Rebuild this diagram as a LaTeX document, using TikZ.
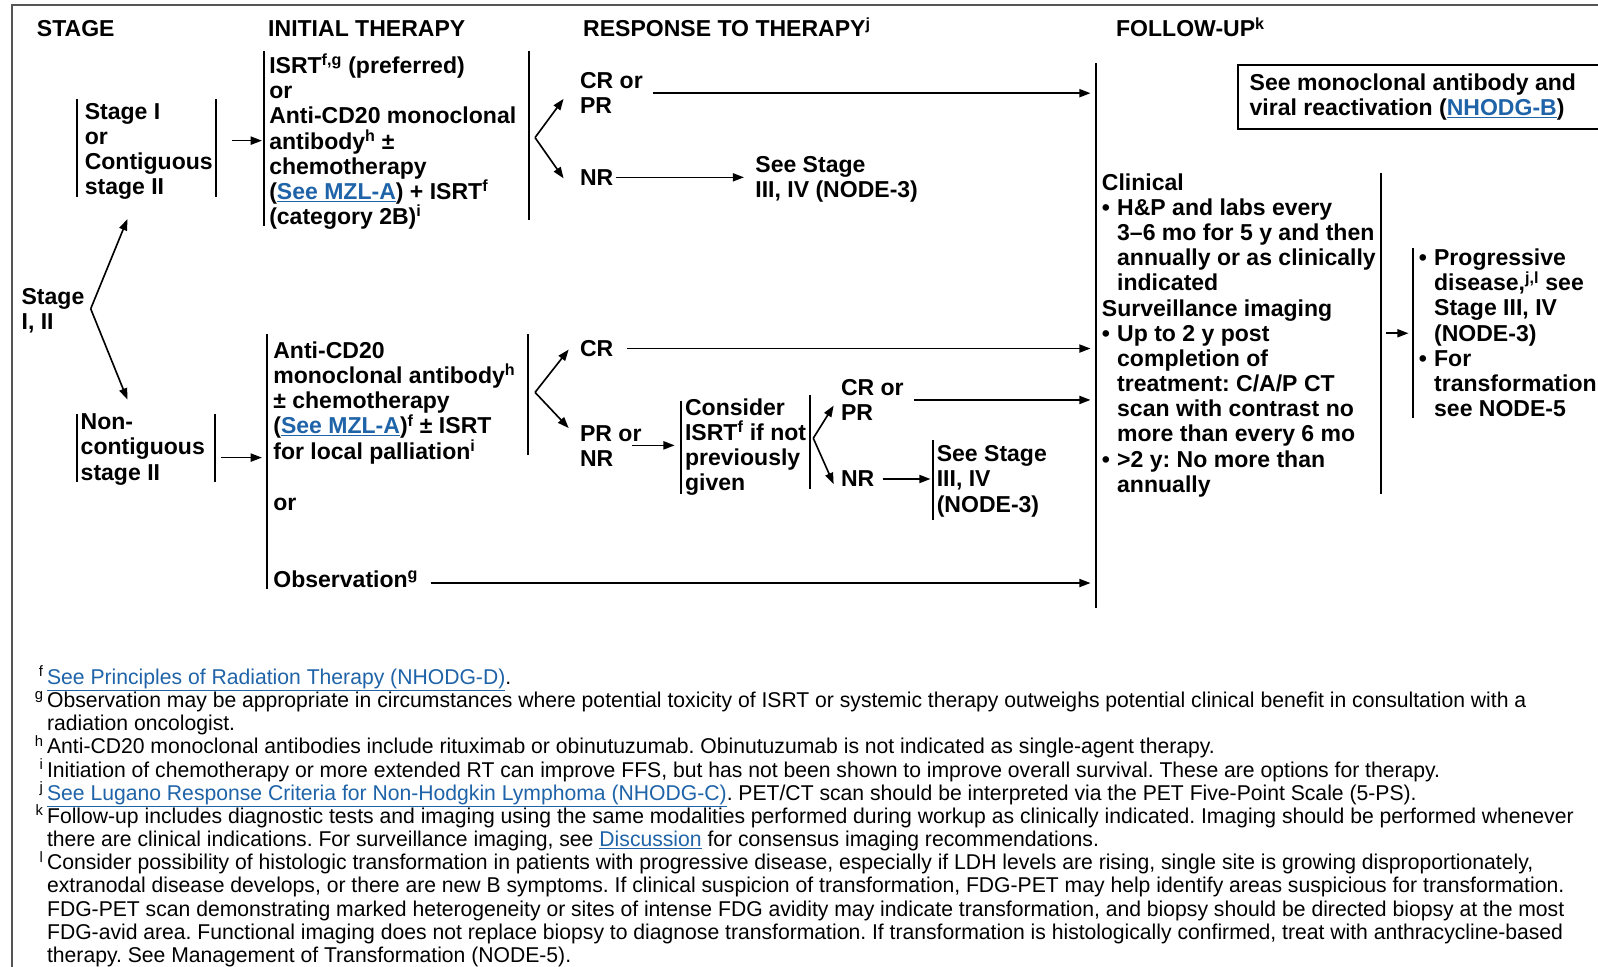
\documentclass[tikz,border=0pt]{standalone}
\usepackage{fontspec}
\setmainfont{Liberation Sans}
\newfontfamily\fnfont[FakeStretch=0.988]{Liberation Sans}
\usetikzlibrary{arrows.meta}
\definecolor{linkblue}{RGB}{31,99,168}
\definecolor{framegray}{RGB}{85,85,85}
\newcommand\lnk[1]{\textcolor{linkblue}{\underline{#1}}}
\newcommand\sps[1]{\textsuperscript{#1}}
\newcommand\fsp[1]{\llap{\smash{\textsuperscript{#1}}\,}}
\newcommand\bul{\makebox[15pt][l]{•}}
\newcommand\ind{\hspace*{15pt}}
\frenchspacing
\begin{document}
\begin{tikzpicture}[x=1pt,y=-1pt,
  txt/.style={inner sep=0pt, align=left, font=\fontsize{22.6}{24.7}\selectfont\bfseries},
  hd/.style={inner sep=0pt, anchor=base west, font=\fontsize{22.6}{24.7}\selectfont\bfseries},
  bar/.style={line width=2pt},
  arr/.style={line width=1.6pt, -{Triangle[length=11pt,width=8pt]}},
  fn/.style={inner sep=0pt, align=left, font=\fontsize{21}{22.75}\selectfont\fnfont},
]
\useasboundingbox (0,0) rectangle (1568,948);
\draw[framegray, line width=1.5pt] (12,960) -- (12,5) -- (1580,5);

% headings
\node[hd] (hStage) at (36,36) {STAGE};
\node[hd] (hInit) at (263,36) {INITIAL THERAPY};
\node[hd] (hResp) at (572,36) {RESPONSE TO THERAPY\sps{j}};
\node[hd] (hFol) at (1095,36) {FOLLOW-UP\sps{k}};

% follow-up target line
\coordinate (fu) at (1070,0);
\draw[bar] (1075,62) -- (1075,597);

% stage I, II
\node[txt, anchor=north west] (st) at (21,283) {Stage\\I, II};
\coordinate (vst) at (89,303);
\coordinate (tS1) at (125,215);
\coordinate (tNC) at (125,392);
\draw[arr] (vst) -- (tS1);
\draw[arr] (vst) -- (tNC);

% stage I box
\node[txt, anchor=north west] (s1) at (83,101) {Stage I\\or\\Contiguous\\stage II};
\draw[bar] (76,97) -- (76,193);
\draw[bar] (212,97) -- (212,193);
\coordinate (a1s) at (228,138);
\coordinate (a1e) at (257,138);
\draw[arr] (a1s) -- (a1e);

% initial therapy 1
\node[txt, anchor=north west] (b1) at (264,53) {ISRT\sps{f,g} (preferred)\\or\\Anti-CD20 monoclonal\\antibody\sps{h} ±\\chemotherapy\\(\lnk{See MZL-A}) + ISRT\sps{f}\\(category 2B)\sps{i}};
\draw[bar] (259,50) -- (259,222);
\draw[bar] (519,50) -- (519,216);
\coordinate (v1) at (525,135);
\coordinate (v1a) at (553,97);
\coordinate (v1b) at (553,175);
\draw[arr] (v1) -- (v1a);
\draw[arr] (v1) -- (v1b);

% responses 1
\node[txt, anchor=north west] (cp1) at (569,71) {CR or\\PR};
\node[txt, anchor=west] (nr1) at (569,174) {NR};
\node[txt, anchor=north west] (ss1) at (741,153) {See Stage\\III, IV (NODE-3)};
\draw[arr] ([xshift=10pt]cp1.east) coordinate (c1) -- (c1 -| fu);
\draw[arr] ([xshift=2pt]nr1.east) coordinate (c2) -- ([xshift=-11pt]c2 -| ss1.west);

% monoclonal box
\node[txt, anchor=north west] (mono) at (1226,72) {See monoclonal antibody and\\viral reactivation (\lnk{NHODG-B})};
\draw[line width=2pt] (1215,64) rectangle (1590,127);

% clinical
\node[txt, anchor=north west] (clin) at (1081,170) {Clinical\\\bul H\&P and labs every\\\ind 3–6 mo for 5 y and then\\\ind annually or as clinically\\\ind indicated\\Surveillance imaging\\\bul Up to 2 y post\\\ind completion of\\\ind treatment: C/A/P CT\\\ind scan with contrast no\\\ind more than every 6 mo\\\bul >2 y: No more than\\\ind annually};
\draw[bar] (1355,170) -- (1355,485);
\coordinate (a2s) at (1360,327);
\coordinate (a2e) at (1382,327);
\draw[arr] (a2s) -- (a2e);

% progressive
\node[txt, anchor=north west] (prog) at (1392,244) {\bul Progressive\\\ind disease,\sps{j,l} see\\\ind Stage III, IV\\\ind (NODE-3)\\\bul For\\\ind transformation\\\ind see NODE-5};
\draw[bar] (1386,243) -- (1386,410);

% non-contiguous
\node[txt, anchor=north west] (nc) at (79,406) {Non-\\contiguous\\stage II};
\draw[bar] (76,406) -- (76,473);
\draw[bar] (211,406) -- (211,473);
\coordinate (a3s) at (217,449);
\coordinate (a3e) at (257,449);
\draw[arr] (a3s) -- (a3e);

% initial therapy 2
\node[txt, anchor=north west] (b2) at (268,335) {Anti-CD20\\monoclonal antibody\sps{h}\\± chemotherapy\\(\lnk{See MZL-A})\sps{f} ± ISRT\\for local palliation\sps{i}};
\node[txt, anchor=west] (or2) at (268,495) {or};
\node[txt, anchor=west] (obs) at (268,568) {Observation\sps{g}};
\draw[bar] (262,328) -- (262,578);
\draw[bar] (518,328) -- (518,446);
\coordinate (v2) at (525,385);
\coordinate (v2a) at (558,343);
\coordinate (v2b) at (558,420);
\draw[arr] (v2) -- (v2a);
\draw[arr] (v2) -- (v2b);
\draw[arr] ([shift={(12,-4)}]obs.base east) coordinate (c3) -- (c3 -| fu);

% responses 2
\node[txt, anchor=west] (cr2) at (569,342) {CR};
\draw[arr] ([xshift=13pt]cr2.east) coordinate (c4) -- (c4 -| fu);
\node[txt, anchor=north west] (prnr) at (569,417) {PR or\\NR};
\node[txt, anchor=north west] (cons) at (672,391) {Consider\\ISRT\sps{f} if not\\previously\\given};
\coordinate (a4s) at (620,437);
\coordinate (a4e) at (662,437);
\draw[arr] (a4s) -- (a4e);
\draw[bar] (668,393) -- (668,485);
\draw[bar] (795,388) -- (795,480);
\coordinate (v3) at (798,430);
\coordinate (v3a) at (818,398);
\coordinate (v3b) at (818,475);
\draw[arr] (v3) -- (v3a);
\draw[arr] (v3) -- (v3b);
\node[txt, anchor=north west] (cp2) at (825,372) {CR or\\PR};
\draw[arr] ([xshift=10pt]cp2.east) coordinate (c5) -- (c5 -| fu);
\node[txt, anchor=west] (nr2) at (825,470) {NR};
\node[txt, anchor=north west] (ss2) at (919,437) {See Stage\\III, IV\\(NODE-3)};
\draw[bar] (915,432) -- (915,510);
\draw[arr] ([xshift=8pt]nr2.east) coordinate (c6) -- ([xshift=-6pt]c6 -| ss2.west);

% footnotes
\node[fn, anchor=north west] (notes) at (46,656) {\fsp{f}\lnk{See Principles of Radiation Therapy (NHODG-D)}.\\
\fsp{g}Observation may be appropriate in circumstances where potential toxicity of ISRT or systemic therapy outweighs potential clinical benefit in consultation with a\\
radiation oncologist.\\
\fsp{h}Anti-CD20 monoclonal antibodies include rituximab or obinutuzumab. Obinutuzumab is not indicated as single-agent therapy.\\
\fsp{i}Initiation of chemotherapy or more extended RT can improve FFS, but has not been shown to improve overall survival. These are options for therapy.\\
\fsp{j}\lnk{See Lugano Response Criteria for Non-Hodgkin Lymphoma (NHODG-C)}. PET/CT scan should be interpreted via the PET Five-Point Scale (5-PS).\\
\fsp{k}Follow-up includes diagnostic tests and imaging using the same modalities performed during workup as clinically indicated. Imaging should be performed whenever\\
there are clinical indications. For surveillance imaging, see \lnk{Discussion} for consensus imaging recommendations.\\
\fsp{l}Consider possibility of histologic transformation in patients with progressive disease, especially if LDH levels are rising, single site is growing disproportionately,\\
extranodal disease develops, or there are new B symptoms. If clinical suspicion of transformation, FDG-PET may help identify areas suspicious for transformation.\\
FDG-PET scan demonstrating marked heterogeneity or sites of intense FDG avidity may indicate transformation, and biopsy should be directed biopsy at the most\\
FDG-avid area. Functional imaging does not replace biopsy to diagnose transformation. If transformation is histologically confirmed, treat with anthracycline-based\\
therapy. See Management of Transformation (NODE-5).};
\end{tikzpicture}
\end{document}
